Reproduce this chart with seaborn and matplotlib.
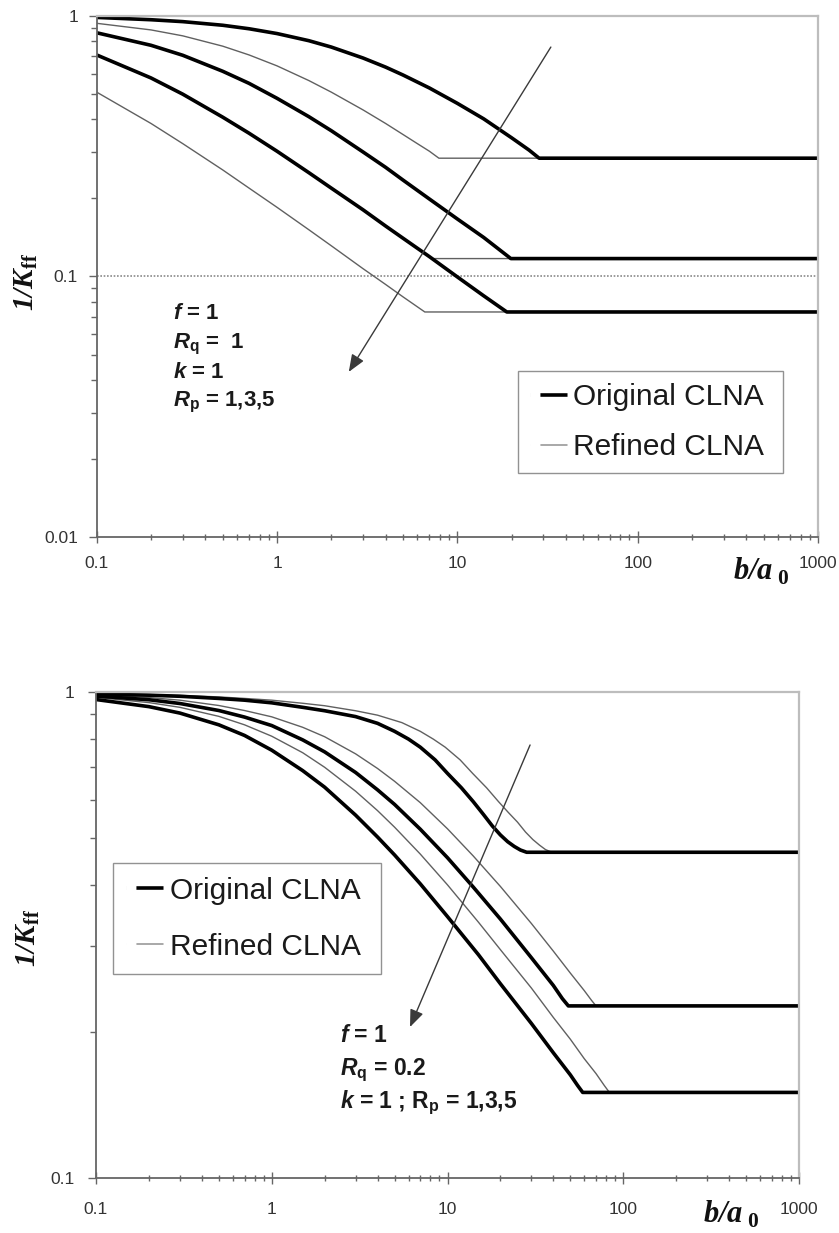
import matplotlib
matplotlib.use("Agg")
import matplotlib.pyplot as plt
from matplotlib.lines import Line2D
from matplotlib.ticker import FixedLocator, FixedFormatter, LogLocator, NullFormatter
import pandas as pd
import seaborn as sns

# ---------------------------------------------------------------------------
# Upper panel: f = 1, Rq = 1, k = 1, Rp = 1, 3, 5   (b/a0 vs 1/Kff)
# ---------------------------------------------------------------------------
top_orig_rp1_x = [0.1, 0.2, 0.3, 0.5, 0.7, 1, 1.5, 2, 3, 4, 5, 7, 10, 14, 20, 25, 28.4, 1000]
top_orig_rp1_y = [0.985, 0.965, 0.949, 0.919, 0.891, 0.854, 0.802, 0.758, 0.688, 0.635,
                  0.592, 0.528, 0.461, 0.402, 0.340, 0.305, 0.284, 0.284]
top_orig_rp3_x = [0.1, 0.2, 0.3, 0.5, 0.7, 1, 1.5, 2, 3, 4, 5, 7, 10, 14, 19.8, 1000]
top_orig_rp3_y = [0.860, 0.770, 0.705, 0.612, 0.550, 0.482, 0.410, 0.362, 0.300, 0.262,
                  0.234, 0.198, 0.166, 0.141, 0.117, 0.117]
top_orig_rp5_x = [0.1, 0.2, 0.3, 0.5, 0.7, 1, 1.5, 2, 3, 4, 5, 7, 10, 14, 18.8, 1000]
top_orig_rp5_y = [0.707, 0.577, 0.500, 0.408, 0.354, 0.302, 0.250, 0.218, 0.180, 0.156,
                  0.140, 0.119, 0.0995, 0.0842, 0.073, 0.073]

top_ref_rp1_x = [0.1, 0.2, 0.3, 0.5, 0.7, 1, 1.5, 2, 3, 4, 5, 6, 7, 7.9, 1000]
top_ref_rp1_y = [0.935, 0.882, 0.837, 0.764, 0.707, 0.642, 0.564, 0.509, 0.435, 0.386,
                 0.350, 0.323, 0.302, 0.284, 0.284]
top_ref_rp3_x = [0.1, 0.2, 0.3, 0.5, 0.7, 1, 1.5, 2, 3, 4, 5, 7, 7.3, 1000]
top_ref_rp3_y = [0.707, 0.577, 0.500, 0.408, 0.354, 0.302, 0.250, 0.218, 0.180, 0.156,
                 0.140, 0.119, 0.117, 0.117]
top_ref_rp5_x = [0.1, 0.2, 0.3, 0.5, 0.7, 1, 1.5, 2, 3, 4, 5, 6.6, 1000]
top_ref_rp5_y = [0.509, 0.386, 0.323, 0.256, 0.218, 0.184, 0.151, 0.131, 0.107, 0.0931,
                 0.0834, 0.073, 0.073]

# ---------------------------------------------------------------------------
# Lower panel: f = 1, Rq = 0.2, k = 1, Rp = 1, 3, 5
# ---------------------------------------------------------------------------
bot_orig_rp1_x = [0.1, 0.2, 0.3, 0.5, 0.7, 1, 1.5, 2, 3, 4, 5, 6, 7, 8.5, 10, 12, 14, 16,
                  18, 20, 22, 24, 26, 28.2, 1000]
bot_orig_rp1_y = [0.990, 0.985, 0.980, 0.970, 0.962, 0.950, 0.930, 0.915, 0.890, 0.862,
                  0.830, 0.800, 0.770, 0.725, 0.680, 0.635, 0.595, 0.560, 0.530, 0.508,
                  0.492, 0.481, 0.473, 0.468, 0.468]
bot_orig_rp3_x = [0.1, 0.2, 0.3, 0.5, 0.7, 1, 1.5, 2, 3, 4, 5, 7, 10, 14, 20, 30, 40, 45, 48.7, 1000]
bot_orig_rp3_y = [0.981, 0.964, 0.947, 0.916, 0.888, 0.853, 0.797, 0.753, 0.683, 0.629,
                  0.587, 0.522, 0.456, 0.397, 0.341, 0.284, 0.249, 0.234, 0.226, 0.226]
bot_orig_rp5_x = [0.1, 0.2, 0.3, 0.5, 0.7, 1, 1.5, 2, 3, 4, 5, 7, 10, 15, 20, 30, 40, 50, 55, 58.8, 1000]
bot_orig_rp5_y = [0.965, 0.933, 0.905, 0.856, 0.814, 0.759, 0.689, 0.637, 0.558, 0.503,
                  0.462, 0.403, 0.345, 0.288, 0.251, 0.208, 0.181, 0.163, 0.155, 0.150, 0.150]

bot_ref_rp1_x = [0.1, 0.2, 0.3, 0.5, 0.7, 1, 1.5, 2, 3, 4, 5.5, 7, 8.3, 9.7, 11.8, 13.9,
                 16.7, 19.5, 22.2, 25, 27.8, 30.6, 33.4, 36.1, 39.2, 1000]
bot_ref_rp1_y = [0.993, 0.988, 0.984, 0.977, 0.970, 0.962, 0.948, 0.937, 0.915, 0.896,
                 0.865, 0.830, 0.800, 0.770, 0.725, 0.680, 0.635, 0.595, 0.565, 0.540,
                 0.515, 0.497, 0.484, 0.474, 0.468, 0.468]
bot_ref_rp3_x = [0.1, 0.2, 0.3, 0.5, 0.7, 1, 1.5, 2, 3, 4, 5, 7, 10, 14, 20, 30, 40, 50, 60, 66, 70, 1000]
bot_ref_rp3_y = [0.987, 0.974, 0.962, 0.938, 0.916, 0.889, 0.846, 0.809, 0.746, 0.696,
                 0.655, 0.592, 0.523, 0.460, 0.398, 0.334, 0.293, 0.264, 0.243, 0.232, 0.226, 0.226]
bot_ref_rp5_x = [0.1, 0.2, 0.3, 0.5, 0.7, 1, 1.5, 2, 3, 4, 5, 7, 10, 15, 20, 30, 40, 50, 60, 70, 78, 83.4, 1000]
bot_ref_rp5_y = [0.975, 0.951, 0.930, 0.891, 0.856, 0.811, 0.750, 0.700, 0.625, 0.570,
                 0.527, 0.464, 0.401, 0.336, 0.295, 0.246, 0.214, 0.193, 0.176, 0.164, 0.155,
                 0.150, 0.150]

# Axis ticks and labels
x_ticks = [0.1, 1, 10, 100, 1000]
x_tick_labels = ["0.1", "1", "10", "100", "1000"]
top_y_ticks = [0.01, 0.1, 1]
top_y_tick_labels = ["0.01", "0.1", "1"]
bot_y_ticks = [0.1, 1]
bot_y_tick_labels = ["0.1", "1"]

series_names = ["Original CLNA ", "Refined CLNA "]
top_params = [r"$f$ = 1", r"$R_{\mathrm{q}}$ =  1", r"$k$ = 1", r"$R_{\mathrm{p}}$ = 1,3,5"]
bot_params = [r"$f$ = 1", r"$R_{\mathrm{q}}$ = 0.2", r"$k$ = 1 ; R$_{\mathrm{p}}$ = 1,3,5"]

# ---------------------------------------------------------------------------
sns.set_theme(style="white")
plt.rcParams["font.family"] = ["Liberation Sans", "DejaVu Sans"]
plt.rcParams["mathtext.fontset"] = "custom"
plt.rcParams["mathtext.it"] = "Liberation Sans:italic:bold"
plt.rcParams["mathtext.rm"] = "Liberation Sans:bold"
plt.rcParams["mathtext.bf"] = "Liberation Sans:bold"
# serif slots used for the axis titles
plt.rcParams["mathtext.sf"] = "Liberation Serif:italic:bold"
plt.rcParams["mathtext.tt"] = "Liberation Serif:bold"
# dash lengths in absolute points (used by the legend keys)
plt.rcParams["lines.scale_dashes"] = False

W, H = 839, 1233
fig = plt.figure(figsize=(W / 100, H / 100), dpi=100)
fig.patch.set_facecolor("white")


def fx(px):
    return px / W


def fy(py):
    return 1 - py / H


def frame(curves):
    rows = []
    for name, (xs, ys) in curves.items():
        rows.append(pd.DataFrame({"x": xs, "y": ys, "curve": name}))
    return pd.concat(rows, ignore_index=True)


THICK = "#000000"
THIN = "#606060"


def draw_panel(ax, orig, ref, ylim, yt, ytl, xpad, ypad):
    sns.lineplot(data=frame(ref), x="x", y="y", units="curve", estimator=None,
                 color=THIN, lw=1.0, ax=ax, legend=False, sort=False)
    sns.lineplot(data=frame(orig), x="x", y="y", units="curve", estimator=None,
                 color=THICK, lw=2.6, ax=ax, legend=False, sort=False)
    ax.set_xscale("log")
    ax.set_yscale("log")
    ax.set_xlim(0.1, 1000)
    ax.set_ylim(*ylim)
    ax.set_xlabel("")
    ax.set_ylabel("")
    ax.xaxis.set_major_locator(FixedLocator(x_ticks))
    ax.xaxis.set_major_formatter(FixedFormatter(x_tick_labels))
    ax.yaxis.set_major_locator(FixedLocator(yt))
    ax.yaxis.set_major_formatter(FixedFormatter(ytl))
    ax.xaxis.set_minor_locator(LogLocator(base=10, subs=range(2, 10)))
    ax.yaxis.set_minor_locator(LogLocator(base=10, subs=range(2, 10)))
    ax.xaxis.set_minor_formatter(NullFormatter())
    ax.yaxis.set_minor_formatter(NullFormatter())
    ax.tick_params(axis="x", which="major", direction="inout", length=8, width=1,
                   color="#666666", labelsize=12.5, labelcolor="#333333", pad=xpad)
    ax.tick_params(axis="x", which="minor", direction="inout", length=5, width=1,
                   color="#666666")
    ax.tick_params(axis="y", which="major", direction="out", length=6, width=1,
                   color="#666666", labelsize=12.5, labelcolor="#333333", pad=ypad)
    ax.tick_params(axis="y", which="minor", direction="out", length=4, width=1,
                   color="#666666")
    ax.tick_params(bottom=True, left=True, which="both")
    for s in ("left", "bottom"):
        ax.spines[s].set_color("#666666")
        ax.spines[s].set_linewidth(1.3)
    for s in ("top", "right"):
        ax.spines[s].set_color("#bdbdbd")
        ax.spines[s].set_linewidth(1.6)
    ax.grid(False)


def add_legend(ax, anchor, spacing, pad):
    # keys start a little inside the frame: a leading gap, then the line
    key_dash = (0, (0.01, 7.5, 19.5, 60))
    handles = [Line2D([], [], color=THICK, lw=2.6, ls=key_dash, dash_capstyle="butt"),
               Line2D([], [], color="#9a9a9a", lw=1.2, ls=key_dash, dash_capstyle="butt")]
    leg = ax.legend(handles, series_names, loc="upper left", bbox_to_anchor=anchor,
                    borderaxespad=0, frameon=True, fancybox=False, fontsize=21.5,
                    handlelength=1.26, handletextpad=0.2, labelspacing=spacing,
                    borderpad=pad)
    leg.get_frame().set_edgecolor("#777777")
    leg.get_frame().set_linewidth(1.0)
    for t in leg.get_texts():
        t.set_color("#1a1a1a")


arrow_style = dict(arrowstyle="-|>,head_length=1.05,head_width=0.42", color="#3a3a3a",
                   lw=1.0, mutation_scale=10, shrinkA=0, shrinkB=0)

# ---- upper panel ----
ax1 = fig.add_axes([fx(96.7), fy(537), fx(818) - fx(96.7), fy(15.7) - fy(537)])
draw_panel(ax1,
           {"rp1": (top_orig_rp1_x, top_orig_rp1_y), "rp3": (top_orig_rp3_x, top_orig_rp3_y),
            "rp5": (top_orig_rp5_x, top_orig_rp5_y)},
           {"rp1": (top_ref_rp1_x, top_ref_rp1_y), "rp3": (top_ref_rp3_x, top_ref_rp3_y),
            "rp5": (top_ref_rp5_x, top_ref_rp5_y)},
           (0.01, 1), top_y_ticks, top_y_tick_labels, xpad=10, ypad=7.5)
ax1.axhline(0.1, color="#8a8a8a", lw=1.2, ls=(0, (1.2, 1.2)), zorder=1)
ax1.annotate("", xy=(2.5, 0.043), xytext=(33, 0.758), arrowprops=arrow_style)
add_legend(ax1, (0.584, 0.318), 0.73, 0.4)

for txt, py in zip(top_params, [319.3, 348.3, 378.3, 406.7]):
    fig.text(fx(172.7), fy(py), txt, fontsize=16, fontweight="bold", color="#1a1a1a",
             ha="left", va="baseline")

fig.text(fx(26), fy(282), r"$\mathsf{1/K}_{\mathtt{ff}}$", rotation=90, fontsize=21,
         ha="center", va="center", color="#111111")
fig.text(fx(789), fy(580), r"$\mathsf{b/a}_{\;\mathtt{0}}$", fontsize=22,
         ha="right", va="baseline", color="#111111")

# ---- lower panel ----
ax2 = fig.add_axes([fx(96), fy(1178), fx(799) - fx(96), fy(692) - fy(1178)])
draw_panel(ax2,
           {"rp1": (bot_orig_rp1_x, bot_orig_rp1_y), "rp3": (bot_orig_rp3_x, bot_orig_rp3_y),
            "rp5": (bot_orig_rp5_x, bot_orig_rp5_y)},
           {"rp1": (bot_ref_rp1_x, bot_ref_rp1_y), "rp3": (bot_ref_rp3_x, bot_ref_rp3_y),
            "rp5": (bot_ref_rp5_x, bot_ref_rp5_y)},
           (0.1, 1), bot_y_ticks, bot_y_tick_labels, xpad=13, ypad=9.5)
ax2.annotate("", xy=(6.12, 0.2045), xytext=(29.5, 0.778), arrowprops=arrow_style)
add_legend(ax2, (0.0238, 0.6475), 0.93, 0.45)

for txt, py in zip(bot_params, [1041.7, 1075, 1108.3]):
    fig.text(fx(340), fy(py), txt, fontsize=16.5, fontweight="bold", color="#1a1a1a",
             ha="left", va="baseline")

fig.text(fx(28), fy(938), r"$\mathsf{1/K}_{\mathtt{ff}}$", rotation=90, fontsize=21,
         ha="center", va="center", color="#111111")
fig.text(fx(759), fy(1223), r"$\mathsf{b/a}_{\;\mathtt{0}}$", fontsize=22,
         ha="right", va="baseline", color="#111111")

fig.savefig("out.png", dpi=100, facecolor="white")
